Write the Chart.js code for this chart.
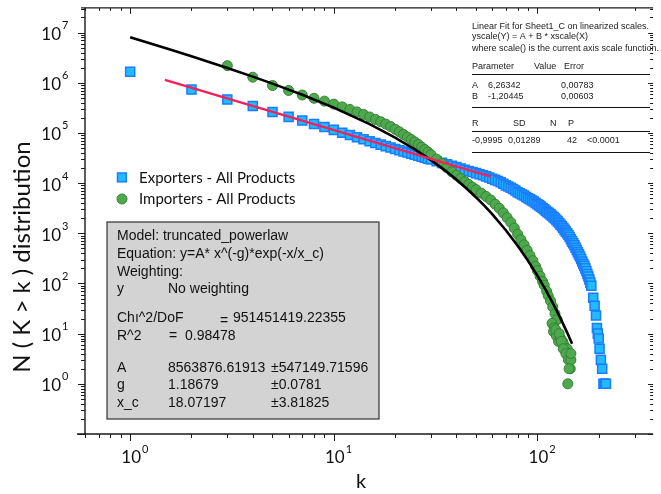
<!DOCTYPE html>
<html>
<head>
<meta charset="utf-8">
<script src="https://cdn.jsdelivr.net/npm/chart.js@4.4.0/dist/chart.umd.min.js"></script>
<style>
  html, body { margin: 0; padding: 0; background: #fff; }
  #wrap { position: relative; width: 661px; height: 494px; }
</style>
</head>
<body>
<div id="wrap"><canvas id="chart" width="661" height="494"></canvas></div>
<script>
// Exporters - All Products (blue squares)
const exporterK = [1, 2, 3, 4, 5, 6, 7, 8, 9, 10, 11, 12, 13, 14, 15, 16, 17, 18, 19, 20,
  21, 22, 23, 24, 25, 26, 27, 28, 29, 30, 32, 34, 36, 38, 40, 42, 44, 46, 48,
  50, 52, 54, 56, 58, 60, 62, 64, 66, 68, 70, 72, 74, 76, 78, 80, 82, 84, 86, 88,
  90, 92, 94, 96, 98, 100, 102, 104, 106, 108, 110, 112, 114, 116, 118, 120, 122, 124, 126, 128,
  130, 132, 134, 136, 138, 140, 142, 144, 146, 148, 150, 152, 154, 156, 158, 160, 162, 164, 166, 168,
  170, 172, 174, 176, 178, 180, 182, 184, 188, 191, 194, 196, 198, 200, 202, 205, 208, 211, 214, 217];
const exporterN = [1660000, 730000, 465000, 343000, 262000, 209000, 176000, 151000, 131000, 115000,
  101000, 90500, 82000, 75000, 68500, 63000, 58500, 54500, 51000, 48000,
  45300, 42800, 40600, 38500, 36700, 35000, 33400, 32000, 30700, 29500, 27300, 25300, 23600, 22100, 20800,
  19600, 18500, 17500, 16600,
  15800, 15000, 14300, 13600, 12900, 12200, 11600, 11000, 10400, 9700, 9000, 8550, 8100, 7650, 7100, 6600,
  6250, 5950, 5650, 5300,
  5000, 4750, 4500, 4280, 4030, 3800, 3600, 3400, 3200, 3000, 2800, 2650, 2520, 2380, 2240, 2100,
  1970, 1840, 1720, 1600,
  1480, 1380, 1270, 1170, 1080, 1000, 920, 840, 760, 690, 630, 575, 515, 465, 420, 380, 343, 308, 275, 248,
  224, 200, 177, 155, 137, 120, 104, 90, 52, 36, 23, 13, 10, 8, 5, 3, 2, 1, 1, 1];

// Importers - All Products (green circles)
const importerK = [3, 4, 5, 6, 7, 8, 9, 10, 11, 12, 13, 14, 15, 16, 17, 18, 19, 20,
  21, 22, 23, 24, 25, 26, 27, 28, 29, 30, 32, 34, 36, 38, 40, 42, 44, 46, 48, 50,
  53, 56, 59, 62, 65, 68, 71, 74, 77, 80, 83, 86, 89, 92, 95, 98, 100, 103, 106, 108, 111, 113,
  116, 119, 122, 125, 118, 121, 120, 124, 127, 130, 133, 135, 137, 140, 144, 145, 145, 141,
  123, 128, 131, 134, 138, 142, 146, 143, 146];
const importerN = [2190000, 1290000, 880000, 700000, 570000, 490000, 430000, 375000, 330000, 294000,
  262000, 234000, 208000, 186000, 167000, 150000, 134000, 118000,
  105000, 93000, 83000, 74000, 66000, 59000, 52000, 46500, 41500, 37000, 30000, 24500, 20200, 16800, 14300,
  12300, 10700, 9400, 8300, 7400,
  6300, 5400, 4600, 3800, 3150, 2550, 2050, 1650, 1270, 960, 750, 590, 460, 360, 285, 220, 180, 140, 110, 92, 70, 57,
  45, 34, 25, 19, 16, 13, 11, 9, 7, 8, 7, 6, 5, 5, 4, 3, 2, 1,
  12, 10, 7, 5, 4, 3, 3, 2, 4];

// Truncated power law fit curve (black)
const powerFitK = [1, 1.5, 2, 3, 4, 5, 7, 10, 15, 20, 25, 30, 35, 40, 45, 50, 55, 60, 70, 80, 90, 100, 110, 120, 130, 140, 148];
const powerFitN = [8100000, 4870000, 3370000, 1970000, 1324000, 961000, 577000, 320000, 150000, 80900, 47100, 28700, 18160,
  11740, 7740, 5180, 3510, 2400, 1149, 564, 282, 143, 73.5, 38.1, 19.9, 10.5, 6.3];

// Linear fit on linearized scales (red)
const linearFitK = [1.48, 59];
const linearFitN = [1143000, 13490];

// Tick labels (powers of ten)
const xTickExponents = [0, 1, 2];
const yTickExponents = [0, 1, 2, 3, 4, 5, 6, 7];

const AXIS_COLOR = "#1a1a1a";
const SANS = "Lato, 'Open Sans', sans-serif";
const ARIAL = "'Liberation Sans', Arial, sans-serif";

const zip = (xs, ys) => xs.map((v, i) => ({ x: v, y: ys[i] }));

function logTicks(min, max) {
  const out = [];
  for (let e = Math.floor(Math.log10(min)); e <= Math.ceil(Math.log10(max)); e++) {
    for (let m = 1; m <= 9; m++) {
      const v = m * Math.pow(10, e);
      if (v >= min * 0.999 && v <= max * 1.001) out.push({ v, major: m === 1 });
    }
  }
  return out;
}

function text(ctx, str, x, y, font, align = "left", color = "#111") {
  ctx.font = font;
  ctx.fillStyle = color;
  ctx.textAlign = align;
  ctx.textBaseline = "middle";
  ctx.fillText(str, x, y);
}

const decor = {
  id: "decor",
  afterDraw(chart) {
    const { ctx, chartArea: a, scales: { x, y } } = chart;
    ctx.save();

    // axis lines
    ctx.strokeStyle = AXIS_COLOR;
    ctx.lineWidth = 1.4;
    ctx.beginPath();
    ctx.moveTo(77, a.bottom); ctx.lineTo(a.right, a.bottom);
    ctx.moveTo(a.left, a.top); ctx.lineTo(a.left, a.bottom);
    ctx.moveTo(81, a.top); ctx.lineTo(a.right, a.top);
    ctx.stroke();

    // ticks
    ctx.lineWidth = 1;
    ctx.beginPath();
    logTicks(x.min, x.max).forEach((t) => {
      const px = Math.round(x.getPixelForValue(t.v)) + 0.5;
      ctx.moveTo(px, a.bottom); ctx.lineTo(px, a.bottom + (t.major ? 7 : 4));
      ctx.moveTo(px, a.top); ctx.lineTo(px, a.top + (t.major ? 6 : 3));
    });
    logTicks(y.min, y.max).forEach((t) => {
      const py = Math.round(y.getPixelForValue(t.v)) + 0.5;
      ctx.moveTo(a.left, py); ctx.lineTo(a.left - (t.major ? 7 : 4), py);
      ctx.moveTo(a.right, py); ctx.lineTo(a.right - (t.major ? 5 : 3), py);
    });
    ctx.stroke();

    // tick labels 10^n
    xTickExponents.forEach((e) => {
      const px = x.getPixelForValue(Math.pow(10, e));
      text(ctx, "10", px + 1, a.bottom + 24, "17px " + SANS, "center");
      ctx.font = "17px " + SANS;
      const w = ctx.measureText("10").width;
      text(ctx, String(e), px + 1 + w / 2 + 1, a.bottom + 15, "11px " + SANS, "left");
    });
    yTickExponents.forEach((e) => {
      const py = y.getPixelForValue(Math.pow(10, e));
      text(ctx, "10", 61, py + 2, "17px " + SANS, "right");
      text(ctx, String(e), 62, py - 7, "11px " + SANS, "left");
    });

    // axis titles
    text(ctx, "k", 361, 482, "20px " + SANS, "center");
    ctx.save();
    ctx.translate(22, 257);
    ctx.rotate(-Math.PI / 2);
    text(ctx, "N ( K > k ) distribution", 0, 0, "24px " + SANS, "center");
    ctx.restore();

    // legend
    const ex = chart.data.datasets[3], im = chart.data.datasets[2];
    ctx.fillStyle = ex.backgroundColor;
    ctx.strokeStyle = ex.borderColor;
    ctx.lineWidth = 1.5;
    ctx.fillRect(117.5, 173, 8.8, 8.8);
    ctx.strokeRect(117.5, 173, 8.8, 8.8);
    ctx.beginPath();
    ctx.arc(122, 199, 5, 0, Math.PI * 2);
    ctx.fillStyle = im.backgroundColor;
    ctx.strokeStyle = im.borderColor;
    ctx.lineWidth = 1;
    ctx.fill(); ctx.stroke();
    text(ctx, ex.label, 139, 178, "15px " + SANS);
    text(ctx, im.label, 139, 199, "15px " + SANS);

    // fit results box
    ctx.fillStyle = "#d3d3d3";
    ctx.fillRect(107, 222, 272, 197);
    ctx.strokeStyle = "#333";
    ctx.lineWidth = 1.2;
    ctx.strokeRect(107, 222, 272, 197);
    const bf = "14px " + ARIAL;
    text(ctx, "Model: truncated_powerlaw", 117, 236, bf);
    text(ctx, "Equation: y=A* x^(-g)*exp(-x/x_c)", 117, 254, bf);
    text(ctx, "Weighting:", 117, 272, bf);
    text(ctx, "y", 117, 289, bf);
    text(ctx, "No weighting", 168, 289, bf);
    text(ctx, "Chı^2/DoF", 117, 318, bf);
    text(ctx, "=", 220, 321, bf);
    text(ctx, "951451419.22355", 233, 318, bf);
    text(ctx, "R^2", 117, 336, bf);
    text(ctx, "=", 169, 336, bf);
    text(ctx, "0.98478", 185, 336, bf);
    [["A", "8563876.61913", "±547149.71596", 368],
     ["g", "1.18679", "±0.0781", 385],
     ["x_c", "18.07197", "±3.81825", 403]].forEach(([p, v, err, yy]) => {
      text(ctx, p, 117, yy, bf);
      text(ctx, v, 168, yy, bf);
      text(ctx, err, 271, yy, bf);
    });

    // linear fit table (top right)
    const tf = "9px " + ARIAL;
    const tc = "#222";
    text(ctx, "Linear Fit for Sheet1_C on linearized scales.", 472, 27, tf, "left", tc);
    text(ctx, "yscale(Y) = A + B * xscale(X)", 472, 37, tf, "left", tc);
    text(ctx, "where scale() is the current axis scale function.", 472, 49, tf, "left", tc);
    text(ctx, "Parameter", 472, 67, tf, "left", tc);
    text(ctx, "Value", 534, 67, tf, "left", tc);
    text(ctx, "Error", 564, 67, tf, "left", tc);
    text(ctx, "A", 472, 86, tf, "left", tc);
    text(ctx, "6,26342", 488, 86, tf, "left", tc);
    text(ctx, "0,00783", 561, 86, tf, "left", tc);
    text(ctx, "B", 472, 97, tf, "left", tc);
    text(ctx, "-1,20445", 488, 97, tf, "left", tc);
    text(ctx, "0,00603", 561, 97, tf, "left", tc);
    text(ctx, "R", 472, 124, tf, "left", tc);
    text(ctx, "SD", 513, 124, tf, "left", tc);
    text(ctx, "N", 550, 124, tf, "left", tc);
    text(ctx, "P", 568, 124, tf, "left", tc);
    text(ctx, "-0,9995", 472, 141, tf, "left", tc);
    text(ctx, "0,01289", 508, 141, tf, "left", tc);
    text(ctx, "42", 567, 141, tf, "left", tc);
    text(ctx, "<0.0001", 587, 141, tf, "left", tc);
    ctx.strokeStyle = "#111";
    ctx.lineWidth = 1;
    ctx.beginPath();
    [74.5, 107.5, 131.5, 152.5].forEach((ly) => { ctx.moveTo(472, ly); ctx.lineTo(650, ly); });
    ctx.stroke();

    ctx.restore();
  }
};

new Chart(document.getElementById("chart"), {
  type: "scatter",
  data: {
    datasets: [
      {
        label: "Linear Fit",
        data: zip(linearFitK, linearFitN),
        showLine: true,
        borderColor: "#f2205c",
        borderWidth: 2.5,
        pointRadius: 0,
        order: 0
      },
      {
        label: "truncated_powerlaw",
        data: zip(powerFitK, powerFitN),
        showLine: true,
        borderColor: "#000",
        borderWidth: 2.6,
        pointRadius: 0,
        order: 1
      },
      {
        label: "Importers - All Products",
        data: zip(importerK, importerN),
        pointStyle: "circle",
        pointRadius: 5,
        backgroundColor: "#4caa4c",
        borderColor: "#3a7f3a",
        borderWidth: 1,
        order: 2
      },
      {
        label: "Exporters - All Products",
        data: zip(exporterK, exporterN),
        pointStyle: "rect",
        pointRadius: 6.4,
        backgroundColor: "#22bbff",
        borderColor: "#1a7cff",
        borderWidth: 1.5,
        order: 3
      }
    ]
  },
  options: {
    responsive: false,
    animation: false,
    devicePixelRatio: 1,
    layout: { padding: { top: 5, right: 0, bottom: 0, left: 0 } },
    plugins: { legend: { display: false }, tooltip: { enabled: false } },
    scales: {
      x: {
        type: "logarithmic",
        bounds: "data",
        min: 0.6,
        max: 370,
        grid: { display: false },
        border: { display: false },
        ticks: { display: false },
        afterFit: (s) => { s.height = 60; }
      },
      y: {
        type: "logarithmic",
        bounds: "data",
        min: 0.1,
        max: 3.1e7,
        grid: { display: false },
        border: { display: false },
        ticks: { display: false },
        afterFit: (s) => { s.width = 85; }
      }
    }
  },
  plugins: [decor]
});
</script>
</body>
</html>
